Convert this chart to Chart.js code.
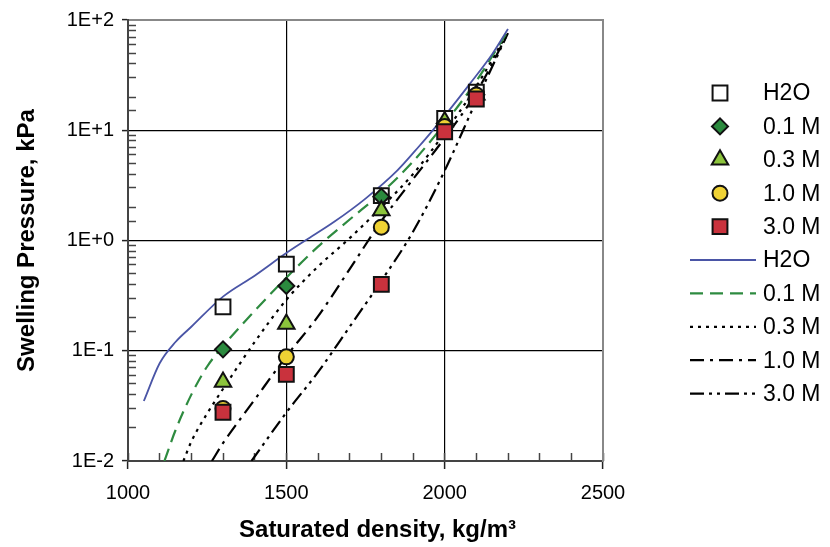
<!DOCTYPE html>
<html>
<head>
<meta charset="utf-8">
<script src="https://cdn.jsdelivr.net/npm/chart.js@4.4.1/dist/chart.umd.min.js"></script>
<style>
  html, body { margin: 0; padding: 0; background: #fff; }
  canvas { display: block; }
</style>
</head>
<body>
<canvas id="chart" width="830" height="547"></canvas>
<script>
// measured swelling pressure (kPa) at each saturated density (kg/m3)
var markerDensity = [1300, 1500, 1800, 2000, 2100];
var measH2O = [0.25, 0.61, 2.55, 12.8, 22.2];
var meas01 = [0.103, 0.387, 2.5, 11.5, 21];
var meas03 = [0.052, 0.175, 1.87, 12, 21];
var meas10 = [0.030, 0.088, 1.32, 10.8, 20.9];
var meas30 = [0.0277, 0.061, 0.40, 9.7, 19.2];

// model curves
var curveH2ODensity = [1050, 1100, 1150, 1200, 1300, 1400, 1500, 1560, 1650, 1750, 1850, 1920, 1965, 2000, 2080, 2150, 2200];
var curveH2O = [0.035, 0.077, 0.12, 0.165, 0.31, 0.48, 0.77, 1.0, 1.47, 2.4, 4.3, 7.2, 10.2, 13.5, 26.5, 49, 83];
var curve01Density = [1115, 1150, 1200, 1250, 1300, 1400, 1500, 1600, 1700, 1800, 1900, 2000, 2100, 2200];
var curve01 = [0.01, 0.019, 0.04, 0.072, 0.11, 0.23, 0.46, 0.88, 1.55, 2.7, 5.2, 11.5, 28, 80];
var curve03Density = [1175, 1200, 1250, 1300, 1350, 1400, 1500, 1600, 1700, 1800, 1900, 2000, 2100, 2200];
var curve03 = [0.01, 0.015, 0.027, 0.045, 0.074, 0.12, 0.29, 0.58, 1.05, 2.0, 4.0, 9.5, 25, 78];
var curve10Density = [1265, 1300, 1400, 1500, 1600, 1700, 1800, 1900, 2000, 2100, 2200];
var curve10 = [0.01, 0.0145, 0.036, 0.089, 0.205, 0.55, 1.5, 3.6, 8.5, 22, 76];
var curve30Density = [1390, 1500, 1600, 1700, 1800, 1900, 2000, 2100, 2200];
var curve30 = [0.01, 0.0275, 0.064, 0.165, 0.43, 1.2, 4.3, 18.5, 76];

var seriesLabels = ['H2O', '0.1 M', '0.3 M', '1.0 M', '3.0 M'];
var yTickValues = [0.01, 0.1, 1, 10, 100];
var yTickLabels = ['1E-2', '1E-1', '1E+0', '1E+1', '1E+2'];
var xTickLabels = ['1000', '1500', '2000', '2500'];

var NONE = 'rgba(0,0,0,0)';
var FONT = '"Liberation Sans", Arial, Helvetica, sans-serif';
Chart.defaults.font.family = FONT;
Chart.defaults.color = '#000';

function pts(xs, ys) {
    return xs.map(function (x, i) { return {x: x, y: ys[i]}; });
}
function decadeIndex(v) {
    return yTickValues.findIndex(function (t) { return Math.abs(t - v) / t < 1e-6; });
}

function marker(i, values, style, radius, fill, order) {
    return {
        label: seriesLabels[i], data: pts(markerDensity, values), showLine: false,
        pointStyle: style, pointRadius: radius, pointBackgroundColor: fill,
        pointBorderColor: '#111', pointBorderWidth: 2, order: order
    };
}
function curve(i, xs, ys, color, width, dash) {
    return {
        label: seriesLabels[i], data: pts(xs, ys), showLine: true, pointRadius: 0,
        borderColor: color, borderWidth: width, borderDash: dash,
        cubicInterpolationMode: 'monotone', order: 20 + i
    };
}

var datasets = [
    marker(0, measH2O, 'rect', 10.5, '#ffffff', 5),
    marker(1, meas01, 'rectRot', 8, '#2b8a3e', 4),
    marker(2, meas03, 'triangle', 9.5, '#8cc43c', 3),
    marker(3, meas10, 'circle', 7.5, '#efd234', 2),
    marker(4, meas30, 'rect', 10.5, '#c9323d', 1),
    curve(0, curveH2ODensity, curveH2O, '#4a55a6', 1.8, []),
    curve(1, curve01Density, curve01, '#2e8b40', 2.2, [13, 7]),
    curve(2, curve03Density, curve03, '#000', 2.2, [3, 5]),
    curve(3, curve10Density, curve10, '#000', 2.2, [14, 6, 3, 6]),
    curve(4, curve30Density, curve30, '#000', 2.2, [14, 5, 3, 5, 3, 5])
];

// legend at the right: markers first, then curves
var sideLegend = {
    id: 'sideLegend',
    afterDraw: function (chart) {
        var ctx = chart.ctx;
        ctx.save();
        ctx.font = '23px ' + FONT;
        ctx.textBaseline = 'middle';
        ctx.textAlign = 'left';
        chart.data.datasets.forEach(function (ds, i) {
            var y = 93 + i * 33.4;
            if (ds.showLine) {
                ctx.strokeStyle = ds.borderColor;
                ctx.lineWidth = ds.borderWidth;
                ctx.setLineDash(ds.borderDash);
                ctx.beginPath();
                ctx.moveTo(690, y);
                ctx.lineTo(756, y);
                ctx.stroke();
                ctx.setLineDash([]);
            } else {
                ctx.fillStyle = ds.pointBackgroundColor;
                ctx.strokeStyle = ds.pointBorderColor;
                ctx.lineWidth = ds.pointBorderWidth;
                Chart.helpers.drawPoint(ctx, {
                    pointStyle: ds.pointStyle, radius: ds.pointRadius,
                    borderWidth: ds.pointBorderWidth, rotation: 0
                }, 720, y);
            }
            ctx.fillStyle = '#000';
            ctx.fillText(ds.label, 763, y + 1);
        });
        ctx.restore();
    }
};

new Chart(document.getElementById('chart'), {
    type: 'scatter',
    data: {datasets: datasets},
    plugins: [sideLegend],
    options: {
        responsive: false,
        animation: false,
        events: [],
        layout: {padding: {left: 0, right: 227, top: 16, bottom: 0}},
        plugins: {legend: {display: false}, tooltip: {enabled: false}},
        scales: {
            x: {
                type: 'linear', position: 'bottom', min: 1000, max: 2500, weight: 1,
                afterFit: function (s) { s.height = 86; },
                ticks: {
                    stepSize: 100, autoSkip: false, maxRotation: 0, padding: 12,
                    font: {size: 20},
                    callback: function (v) {
                        var i = xTickLabels.indexOf(String(v));
                        return i >= 0 ? xTickLabels[i] : '';
                    }
                },
                grid: {
                    color: function (c) { return c.tick && (c.tick.value === 1500 || c.tick.value === 2000) ? '#000' : NONE; },
                    lineWidth: 1.2, tickLength: 8, tickWidth: 1.5,
                    tickColor: function (c) { return c.tick && c.tick.value % 500 === 0 ? '#222' : NONE; }
                },
                border: {color: '#444', width: 2},
                title: {
                    display: true, text: '\u2003Saturated density, kg/m³',
                    font: {size: 24, weight: 'bold'}, padding: {top: 0, bottom: 2}
                }
            },
            xMinor: {
                type: 'linear', position: 'bottom', min: 1000, max: 2500, weight: 0,
                afterFit: function (s) { s.height = 0; },
                ticks: {display: false, stepSize: 100, autoSkip: false},
                grid: {drawOnChartArea: false, tickLength: -8, tickWidth: 1.5, tickColor: '#444'},
                border: {display: false}
            },
            xTop: {
                type: 'linear', position: 'top', min: 1000, max: 2500,
                afterFit: function (s) { s.height = 0; },
                ticks: {display: false},
                grid: {color: NONE, drawTicks: false},
                border: {color: '#888', width: 2}
            },
            y: {
                type: 'logarithmic', position: 'left', min: 0.01, max: 100, weight: 1,
                afterFit: function (s) { s.width = 128; },
                ticks: {
                    autoSkip: false, padding: 8, font: {size: 20},
                    callback: function (v) {
                        var i = decadeIndex(v);
                        return i >= 0 ? yTickLabels[i] : '';
                    }
                },
                grid: {
                    color: function (c) {
                        if (!c.tick) return NONE;
                        var i = decadeIndex(c.tick.value);
                        return i > 0 && i < yTickValues.length - 1 ? '#000' : NONE;
                    },
                    lineWidth: 1.2, tickLength: 6, tickWidth: 1.5,
                    tickColor: function (c) { return c.tick && decadeIndex(c.tick.value) >= 0 ? '#222' : NONE; }
                },
                border: {color: '#444', width: 2},
                title: {
                    display: true, text: 'Swelling Pressure, kPa',
                    font: {size: 24, weight: 'bold'}, padding: {top: 13, bottom: 0}
                }
            },
            yMinor: {
                type: 'logarithmic', position: 'left', min: 0.01, max: 100, weight: 0,
                afterFit: function (s) { s.width = 0; },
                ticks: {display: false, autoSkip: false},
                grid: {
                    drawOnChartArea: false, tickLength: -8, tickWidth: 1.5,
                    tickColor: function (c) { return c.tick && decadeIndex(c.tick.value) < 0 ? '#444' : NONE; }
                },
                border: {display: false}
            },
            yRight: {
                type: 'logarithmic', position: 'right', min: 0.01, max: 100,
                afterFit: function (s) { s.width = 0; },
                ticks: {display: false},
                grid: {color: NONE, drawTicks: false},
                border: {color: '#888', width: 2}
            }
        }
    }
});
</script>
</body>
</html>
